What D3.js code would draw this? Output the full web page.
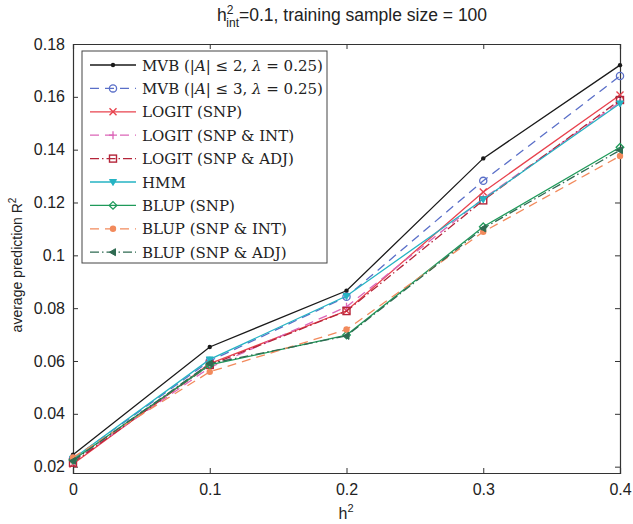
<!DOCTYPE html>
<html>
<head>
<meta charset="utf-8">
<script src="https://cdn.jsdelivr.net/npm/d3@7"></script>
<style>
  body { margin: 0; background: #fff; }
  text { font-family: "Liberation Sans", Arial, sans-serif; }
  .leg text { font-family: "DejaVu Serif", "Liberation Serif", serif; }
</style>
</head>
<body>
<div id="central-container"></div>
<script>
// set the dimensions and margins of the graph
var width = 633
var height = 524
var margin = {left: 73, right: 13, top: 44, bottom: 51}

// Data
var xValues = [0, 0.1, 0.2, 0.3, 0.4]
var xTicks = [0, 0.1, 0.2, 0.3, 0.4]
var yTicks = [0.02, 0.04, 0.06, 0.08, 0.1, 0.12, 0.14, 0.16, 0.18]

var mvb2      = [0.0245, 0.0653, 0.0866, 0.1367, 0.1720]
var mvb3      = [0.0230, 0.0600, 0.0843, 0.1282, 0.1679]
var logitSnp  = [0.0210, 0.0590, 0.0790, 0.1240, 0.1607]
var logitInt  = [0.0220, 0.0575, 0.0805, 0.1215, 0.1580]
var logitAdj  = [0.0215, 0.0585, 0.0789, 0.1208, 0.1588]
var hmm       = [0.0230, 0.0606, 0.0846, 0.1212, 0.1575]
var blupSnp   = [0.0225, 0.0585, 0.0698, 0.1108, 0.1409]
var blupInt   = [0.0235, 0.0559, 0.0719, 0.1089, 0.1376]
var blupAdj   = [0.0222, 0.0590, 0.0695, 0.1102, 0.1398]

// legend names, split so |A| and λ can be set in italics
var seriesNames = [
  ["MVB (|", "A", "| ≤ 2, ", "λ", " = 0.25)"],
  ["MVB (|", "A", "| ≤ 3, ", "λ", " = 0.25)"],
  ["LOGIT (SNP)"], ["LOGIT (SNP & INT)"], ["LOGIT (SNP & ADJ)"], ["HMM"],
  ["BLUP (SNP)"], ["BLUP (SNP & INT)"], ["BLUP (SNP & ADJ)"]]

var series = [
  {name: seriesNames[0], values: mvb2,     color: "#1a1a1a", dash: null,        marker: "dot"},
  {name: seriesNames[1], values: mvb3,     color: "#5a6fc8", dash: "9,6",       marker: "circle"},
  {name: seriesNames[2], values: logitSnp, color: "#e8434e", dash: null,        marker: "x"},
  {name: seriesNames[3], values: logitInt, color: "#dc66b8", dash: "9,6",       marker: "plus"},
  {name: seriesNames[4], values: logitAdj, color: "#b5253a", dash: "9,3,1.5,3", marker: "square"},
  {name: seriesNames[5], values: hmm,      color: "#25b3c3", dash: null,        marker: "tridown"},
  {name: seriesNames[6], values: blupSnp,  color: "#1f9a5a", dash: null,        marker: "diamond"},
  {name: seriesNames[7], values: blupInt,  color: "#f28a5c", dash: "9,6",       marker: "fdot"},
  {name: seriesNames[8], values: blupAdj,  color: "#2f6b52", dash: "9,3,1.5,3", marker: "trileft"}
]

var svg = d3.select("#central-container")
  .append("svg")
    .attr("width", width)
    .attr("height", height)

var x = d3.scaleLinear().domain([0, 0.4]).range([margin.left, width - margin.right])
var y = d3.scaleLinear().domain([0.0176, 0.18]).range([height - margin.bottom, margin.top])

// axes with inward ticks on all four sides
svg.append("g").attr("transform", "translate(0," + (height - margin.bottom) + ")")
  .call(d3.axisBottom(x).tickValues(xTicks).tickSize(-5).tickPadding(11).tickFormat(d3.format("")))
svg.append("g").attr("transform", "translate(0," + margin.top + ")")
  .call(d3.axisTop(x).tickValues(xTicks).tickSize(-5).tickFormat(""))
svg.append("g").attr("transform", "translate(" + margin.left + ",0)")
  .call(d3.axisLeft(y).tickValues(yTicks).tickSize(-5).tickPadding(8).tickFormat(d3.format("")))
svg.append("g").attr("transform", "translate(" + (width - margin.right) + ",0)")
  .call(d3.axisRight(y).tickValues(yTicks).tickSize(-5).tickFormat(""))

svg.selectAll(".domain").attr("stroke", "#333").attr("stroke-width", 1.2)
svg.selectAll(".tick line").attr("stroke", "#333")
svg.selectAll(".tick text").style("font-size", "16px").attr("fill", "#222")
  .style("font-family", "Liberation Sans, Arial, sans-serif")

// lines
var line = d3.line().x(function(d, i){ return x(xValues[i]) }).y(function(d){ return y(d) })

function drawMarker(g, type, color, cx, cy) {
  if (type == "dot") {
    g.append("circle").attr("cx", cx).attr("cy", cy).attr("r", 2.2).attr("fill", color)
  } else if (type == "fdot") {
    g.append("circle").attr("cx", cx).attr("cy", cy).attr("r", 3.2).attr("fill", color)
  } else if (type == "circle") {
    g.append("circle").attr("cx", cx).attr("cy", cy).attr("r", 3.6).attr("fill", "none").attr("stroke", color).attr("stroke-width", 1.3)
  } else if (type == "x") {
    g.append("path").attr("d", "M" + (cx-3.5) + "," + (cy-3.5) + "L" + (cx+3.5) + "," + (cy+3.5) + "M" + (cx-3.5) + "," + (cy+3.5) + "L" + (cx+3.5) + "," + (cy-3.5))
      .attr("stroke", color).attr("stroke-width", 1.4)
  } else if (type == "plus") {
    g.append("path").attr("d", "M" + (cx-4) + "," + cy + "L" + (cx+4) + "," + cy + "M" + cx + "," + (cy-4) + "L" + cx + "," + (cy+4))
      .attr("stroke", color).attr("stroke-width", 1.3)
  } else if (type == "square") {
    g.append("rect").attr("x", cx-3.5).attr("y", cy-3.5).attr("width", 7).attr("height", 7).attr("fill", "none").attr("stroke", color).attr("stroke-width", 1.4)
  } else if (type == "tridown") {
    g.append("path").attr("d", "M" + (cx-3.5) + "," + (cy-2.5) + "L" + (cx+3.5) + "," + (cy-2.5) + "L" + cx + "," + (cy+3.5) + "Z")
      .attr("fill", color).attr("stroke", color)
  } else if (type == "diamond") {
    g.append("path").attr("d", "M" + cx + "," + (cy-3.8) + "L" + (cx+3.8) + "," + cy + "L" + cx + "," + (cy+3.8) + "L" + (cx-3.8) + "," + cy + "Z")
      .attr("fill", "none").attr("stroke", color).attr("stroke-width", 1.3)
  } else if (type == "trileft") {
    g.append("path").attr("d", "M" + (cx-3.5) + "," + cy + "L" + (cx+2.5) + "," + (cy-3.5) + "L" + (cx+2.5) + "," + (cy+3.5) + "Z")
      .attr("fill", color).attr("stroke", color)
  }
}

var plot = svg.append("g")
series.forEach(function(s) {
  plot.append("path")
    .datum(s.values)
    .attr("d", line)
    .attr("fill", "none")
    .attr("stroke", s.color)
    .attr("stroke-width", 1.3)
    .attr("stroke-dasharray", s.dash)
  s.values.forEach(function(v, i) {
    drawMarker(plot, s.marker, s.color, x(xValues[i]), y(v))
  })
})

// legend
var leg = svg.append("g").attr("class", "leg")
leg.append("rect").attr("x", 82).attr("y", 51).attr("width", 245).attr("height", 212)
  .attr("fill", "#fff").attr("stroke", "#444").attr("stroke-width", 1)
series.forEach(function(s, i) {
  var ly = 65 + i * 23.4
  leg.append("line").attr("x1", 90).attr("x2", 136).attr("y1", ly).attr("y2", ly)
    .attr("stroke", s.color).attr("stroke-width", 1.3).attr("stroke-dasharray", s.dash)
  drawMarker(leg, s.marker, s.color, 113, ly)
  var t = leg.append("text").attr("x", 142).attr("y", ly + 5.5)
    .style("font-size", "15px").attr("fill", "#222")
  s.name.forEach(function(part, j) {
    t.append("tspan").style("font-style", j % 2 == 1 ? "italic" : "normal").text(part)
  })
})

// title and labels
var title = svg.append("text").attr("x", 352).attr("y", 21).attr("text-anchor", "middle")
  .style("font-size", "17.5px").attr("fill", "#222")
title.append("tspan").text("h")
title.append("tspan").attr("dy", -7).style("font-size", "12px").text("2")
title.append("tspan").attr("dy", 13).attr("dx", -7).style("font-size", "12px").text("int")
title.append("tspan").attr("dy", -6).text("=0.1, training sample size = 100")

var xl = svg.append("text").attr("x", 346).attr("y", 519).attr("text-anchor", "middle")
  .style("font-size", "16px").attr("fill", "#222")
xl.append("tspan").text("h")
xl.append("tspan").attr("dy", -7).style("font-size", "11px").text("2")

var yl = svg.append("text").attr("transform", "translate(22," + 265 + ") rotate(-90)")
  .attr("text-anchor", "middle").style("font-size", "14px").attr("fill", "#222")
yl.append("tspan").text("average prediction R")
yl.append("tspan").attr("dy", -6).style("font-size", "10px").text("2")
</script>
</body>
</html>
